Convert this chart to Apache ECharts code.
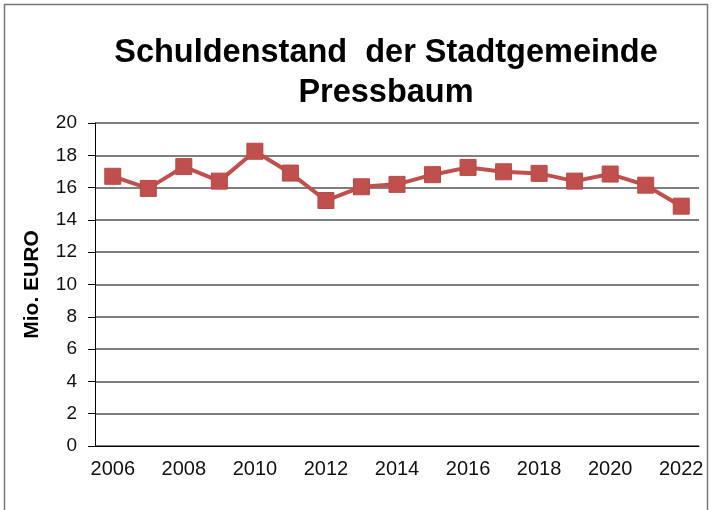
<!DOCTYPE html>
<html>
<head>
<meta charset="utf-8">
<script src="https://cdn.jsdelivr.net/npm/echarts@6/dist/echarts.min.js"></script>
<style>
  html, body { margin: 0; padding: 0; background: #fff; }
  #main { width: 712px; height: 510px; }
</style>
</head>
<body>
<div id="main"></div>
<script>
// Jahre und Schuldenstand (Mio. EURO)
var years = ["2006", "2007", "2008", "2009", "2010", "2011", "2012", "2013", "2014",
  "2015", "2016", "2017", "2018", "2019", "2020", "2021", "2022"];
var schulden = [16.7, 15.95, 17.3, 16.4, 18.25, 16.9, 15.2, 16.05, 16.2,
  16.8, 17.25, 16.98, 16.88, 16.4, 16.84, 16.15, 14.85];
var yTicks = [0, 2, 4, 6, 8, 10, 12, 14, 16, 18, 20];

var chart = echarts.init(document.getElementById("main"));

var option = {
  backgroundColor: "#fff",
  animation: false,
  title: {
    text: "Schuldenstand  der Stadtgemeinde\nPressbaum",
    left: 381,
    top: 28,
    textAlign: "center",
    textStyle: {
      fontFamily: "Liberation Sans",
      fontWeight: "bold",
      fontSize: 32.5,
      lineHeight: 40,
      color: "#000"
    }
  },
  graphic: [
    {
      // Rahmen um das Diagramm
      type: "rect",
      shape: { x: 4.5, y: 4.5, width: 703, height: 510 },
      style: { fill: "none", stroke: "#777", lineWidth: 1.5 },
      silent: true
    }
  ],
  grid: {
    left: 95,
    right: 13,
    top: 123,
    bottom: 64
  },
  xAxis: {
    type: "category",
    data: years,
    boundaryGap: true,
    axisLine: { lineStyle: { color: "#000", width: 1 } },
    axisTick: {
      interval: 0,
      length: 7,
      lineStyle: { color: "#000" }
    },
    axisLabel: {
      interval: 1,
      color: "#111",
      fontFamily: "Liberation Sans",
      fontSize: 20,
      margin: 13
    },
    splitLine: { show: false }
  },
  yAxis: {
    type: "value",
    min: yTicks[0],
    max: yTicks[yTicks.length - 1],
    interval: 2,
    name: "Mio. EURO",
    nameLocation: "middle",
    nameGap: 52,
    nameTextStyle: {
      fontFamily: "Liberation Sans",
      fontWeight: "bold",
      fontSize: 21,
      color: "#000"
    },
    axisLine: { show: true, lineStyle: { color: "#000", width: 1 } },
    axisTick: { show: true, length: 7, lineStyle: { color: "#000" } },
    axisLabel: {
      color: "#111",
      fontFamily: "Liberation Sans",
      fontSize: 19,
      margin: 18
    },
    splitLine: { lineStyle: { color: "#555", width: 1.5 } }
  },
  series: [
    {
      name: "Schuldenstand",
      type: "line",
      data: schulden,
      symbol: "rect",
      symbolSize: 16,
      lineStyle: { color: "#c0504d", width: 4 },
      itemStyle: { color: "#c0504d", borderColor: "#b84a47", borderWidth: 1 }
    }
  ]
};

chart.setOption(option);
</script>
</body>
</html>
